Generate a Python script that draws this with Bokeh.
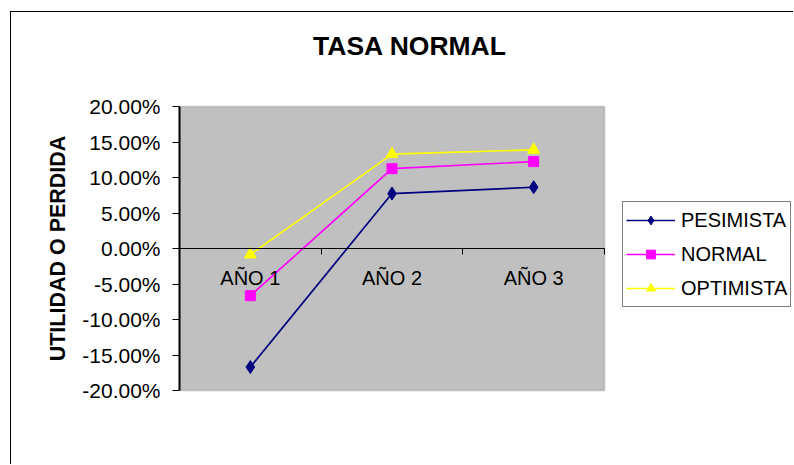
from bokeh.plotting import figure
from bokeh.models import (Range1d, LinearAxis, FixedTicker, NumeralTickFormatter,
                          Legend, LegendItem, BoxAnnotation, Label)
from bokeh.embed import file_html
from bokeh.resources import INLINE

# ---- data ----
categories = ["AÑO 1", "AÑO 2", "AÑO 3"]
x_pos = [1, 2, 3]
pesimista = [-0.167, 0.0774, 0.0863]
normal = [-0.0665, 0.1125, 0.1224]
optimista = [-0.0085, 0.1330, 0.1390]
y_ticks = [-0.20, -0.15, -0.10, -0.05, 0.0, 0.05, 0.10, 0.15, 0.20]
series_names = ["PESIMISTA", "NORMAL", "OPTIMISTA"]
title_text = "TASA NORMAL"
y_label = "UTILIDAD O PERDIDA"

FONT = "Liberation Sans"

# ---- layout geometry (canvas pixels) ----
W, H = 783, 453
LEFT = 168                     # left edge of the gray plot area
AREA_W = 425                   # gray plot area width
AREA_TOP, AREA_BOT = 94, 378   # gray plot area top / bottom
FRAME_TOP = AREA_TOP - (H - AREA_BOT)   # symmetric margin so axis label is centred
TITLE_CX, TITLE_CY = 398.5, 33
LEGEND_X, LEGEND_Y = 443, 83   # legend bottom-left, relative to gray area's left/bottom

x_lo, x_hi = x_pos[0] - 0.5, x_pos[-1] + 0.5
y_lo, y_hi = y_ticks[0], y_ticks[-1]
px_x = (x_hi - x_lo) / AREA_W
px_y = (y_hi - y_lo) / (AREA_BOT - AREA_TOP)
x_end = x_lo + (W - LEFT) * px_x
y_top = y_hi + (AREA_TOP - FRAME_TOP) * px_y
y_bot = y_lo - (H - AREA_BOT) * px_y

p = figure(width=W, height=H,
           x_range=Range1d(x_lo, x_end), y_range=Range1d(y_bot, y_top),
           x_axis_type=None, output_backend="svg", toolbar_location=None,
           min_border_left=LEFT, min_border_right=0,
           min_border_top=FRAME_TOP, min_border_bottom=0,
           background_fill_color="white", border_fill_color="white",
           outline_line_color=None)
p.styles = {"border-left": "1px solid #000", "border-top": "1px solid #000",
            "margin-left": "10px", "margin-top": "11px"}
p.grid.visible = False
p.title.visible = False

# gray plot area
p.add_layout(BoxAnnotation(left=x_lo, right=x_hi, bottom=y_lo, top=y_hi,
                           fill_color="#C0C0C0", fill_alpha=1,
                           line_color="#808080", line_width=2, level="underlay"))

# chart title
p.add_layout(Label(x=x_lo + (TITLE_CX - LEFT) * px_x,
                   y=y_hi + (AREA_TOP - TITLE_CY) * px_y,
                   text=title_text, text_align="center", text_baseline="middle",
                   text_font=FONT, text_font_size="26.5px", text_font_style="bold",
                   text_color="black"))

# y axis
ya = p.yaxis[0]
ya.ticker = FixedTicker(ticks=y_ticks)
ya.bounds = (y_lo, y_hi)
ya.formatter = NumeralTickFormatter(format="0.00%")
ya.major_tick_out = 7
ya.major_tick_in = 0
ya.minor_tick_line_color = None
ya.axis_line_color = "black"
ya.axis_line_width = 2
ya.major_tick_line_color = "black"
ya.major_label_text_font = FONT
ya.major_label_text_font_size = "21px"
ya.major_label_text_color = "black"
ya.major_label_standoff = 12
ya.axis_label = y_label
ya.axis_label_text_font = FONT
ya.axis_label_text_font_size = "21.5px"
ya.axis_label_text_font_style = "bold"
ya.axis_label_text_color = "black"
ya.axis_label_standoff = 9

# category axis crossing at zero: labels at centres, ticks at category boundaries
bounds = [x - 0.5 for x in x_pos] + [x_pos[-1] + 0.5]
cat_axis = LinearAxis(fixed_location=0,
                      ticker=FixedTicker(ticks=x_pos, minor_ticks=bounds),
                      major_label_overrides={x: c for x, c in zip(x_pos, categories)},
                      major_tick_line_color=None,
                      minor_tick_line_color="black", minor_tick_out=6, minor_tick_in=0,
                      axis_line_color="black", axis_line_width=1,
                      bounds=(x_lo, x_hi),
                      major_label_text_font=FONT, major_label_text_font_size="20px",
                      major_label_text_color="black", major_label_standoff=12)
p.add_layout(cat_axis, "below")

# series
styles = [
    (pesimista, "#000080", "diamond", 13),
    (normal, "#FF00FF", "square", 10),
    (optimista, "#FFFF00", "triangle", 12),
]
items = []
for name, (vals, color, marker, size) in zip(series_names, styles):
    l = p.line(x_pos, vals, line_color=color, line_width=1.7)
    s = p.scatter(x_pos, vals, marker=marker, size=size,
                  fill_color=color, line_color=color)
    items.append(LegendItem(label=name, renderers=[l, s]))

legend = Legend(items=items, location=(LEGEND_X, (H - AREA_BOT) + LEGEND_Y),
                border_line_color="black", border_line_width=1,
                background_fill_color="white", background_fill_alpha=1,
                label_text_font=FONT, label_text_font_size="20px",
                label_text_color="black",
                glyph_width=49, glyph_height=22, label_height=30,
                label_standoff=6, spacing=4, padding=3, margin=0)
p.add_layout(legend, "center")

open("out.html", "w").write(file_html(p, INLINE))
